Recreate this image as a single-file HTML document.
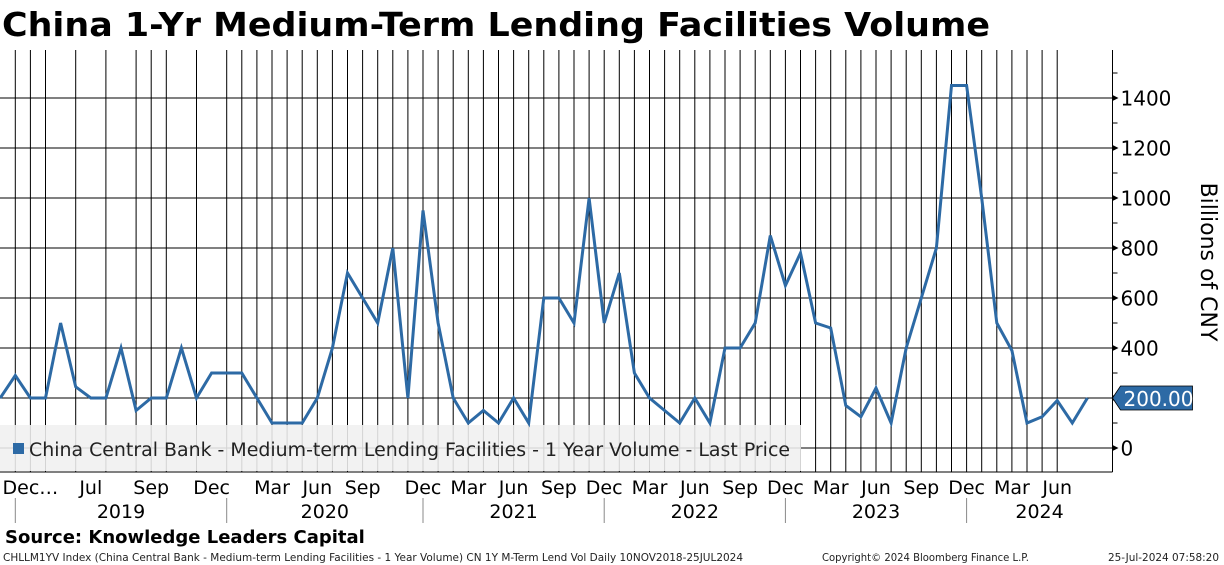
<!DOCTYPE html>
<html><head><meta charset="utf-8">
<style>
html,body{margin:0;padding:0;background:#fff;}
svg{display:block;}
text{font-family:"DejaVu Sans","Liberation Sans",sans-serif;}
</style></head>
<body>
<svg id="chart" width="1224" height="565" viewBox="0 0 1224 565" xmlns="http://www.w3.org/2000/svg">
  <text x="2" y="36" font-size="33" font-weight="bold" textLength="988" lengthAdjust="spacingAndGlyphs">China 1-Yr Medium-Term Lending Facilities Volume</text>
  <g id="grid"></g>
  <g id="legendg">
    <rect x="0" y="425" width="801" height="46" fill="rgba(240,240,240,0.88)"/>
    <rect x="13" y="443" width="11" height="11" fill="#2d6aa5"/>
    <text x="29" y="456" font-size="18.5" fill="#222" textLength="761" lengthAdjust="spacingAndGlyphs">China Central Bank - Medium-term Lending Facilities - 1 Year Volume - Last Price</text>
  </g>
  <g id="series"></g>
  <g id="axis"></g>
  <g id="xaxis"></g>
  <text transform="translate(1201,262) rotate(90)" text-anchor="middle" font-size="22">Billions of CNY</text>
  <text x="5" y="543" font-size="18" font-weight="bold">Source: Knowledge Leaders Capital</text>
  <text x="3" y="561" font-size="10.5" fill="#222" textLength="740" lengthAdjust="spacingAndGlyphs">CHLLM1YV Index (China Central Bank - Medium-term Lending Facilities - 1 Year Volume) CN 1Y M-Term Lend Vol  Daily 10NOV2018-25JUL2024</text>
  <text x="822" y="561" font-size="10.5" fill="#222" textLength="207" lengthAdjust="spacingAndGlyphs">Copyright© 2024 Bloomberg Finance L.P.</text>
  <text x="1108" y="561" font-size="10.5" fill="#222" textLength="111" lengthAdjust="spacingAndGlyphs">25-Jul-2024 07:58:20</text>
</svg>
<script>
const values = [200,290,200,200,500,245,200,200,400,150,200,200,400,200,300,300,300,200,100,100,100,200,400,700,600,500,800,200,950,500,200,100,150,100,200,100,600,600,500,1000,500,700,300,200,150,100,200,100,400,400,500,850,650,780,500,480,170,125,240,100,400,600,800,1450,1450,1000,500,390,100,125,190,100,200];
const lastPrice = "200.00";
const yTicks = [0,200,400,600,800,1000,1200,1400];
const yTickLabels = ["0","200","400","600","800","1000","1200","1400"];
const monthLabels = ["Dec…","Jul","Sep","Dec","Mar","Jun","Sep","Dec","Mar","Jun","Sep","Dec","Mar","Jun","Sep","Dec","Mar","Jun","Sep","Dec","Mar","Jun"];
const monthIdx = [2,6,10,14,18,21,24,28,31,34,37,40,43,46,49,52,55,58,61,64,67,70];
const yearLabels = ["2019","2020","2021","2022","2023","2024"];
const yearStartIdx = [1,15,28,40,52,64];
const noGridIdx = [0,4,6,8,12,14,71,72];

const NS="http://www.w3.org/2000/svg";
const X0=0.2, STEP=15.1, AXIS_X=1112.5, TOP=50, BOT=472;
const xs=i=>X0+STEP*i;
const ys=v=>448-v*0.25;
function mk(tag,attrs,parent){const e=document.createElementNS(NS,tag);for(const k in attrs)e.setAttribute(k,attrs[k]);parent.appendChild(e);return e;}
const grid=document.getElementById('grid'),series=document.getElementById('series'),axis=document.getElementById('axis'),xaxis=document.getElementById('xaxis');

// vertical gridlines
for(let i=0;i<values.length;i++){
  if(noGridIdx.includes(i))continue;
  const l=mk('line',{x1:xs(i),x2:xs(i),y1:TOP,y2:BOT,stroke:'#000','stroke-width':1},grid);
  
  
}
// horizontal gridlines
yTicks.forEach(v=>{
  const l=mk('line',{x1:0,x2:AXIS_X,y1:ys(v),y2:ys(v),stroke:'#000','stroke-width':1},grid);
  
  
});
const bl=mk('line',{x1:0,x2:AXIS_X,y1:BOT,y2:BOT,stroke:'#000','stroke-width':1},grid);



// series
const pts=values.map((v,i)=>xs(i).toFixed(1)+','+ys(v).toFixed(1)).join(' ');
const pl=mk('polyline',{points:pts,fill:'none',stroke:'#2d6aa5','stroke-width':3,'stroke-linejoin':'miter'},series);



// y axis
const al=mk('line',{x1:AXIS_X,x2:AXIS_X,y1:TOP,y2:BOT,stroke:'#000','stroke-width':1},axis);


for(let v=-100;v<=1500;v+=100){
  const y=ys(v); if(y<TOP||y>BOT)continue;
  const t=mk('line',{x1:AXIS_X,x2:AXIS_X+5,y1:y,y2:y,stroke:'#000','stroke-width':1},axis);
  
  
}
yTicks.forEach((v,k)=>{
  const y=ys(v);
  const tri=mk('polygon',{points:`${AXIS_X},${y-3} ${AXIS_X+6},${y} ${AXIS_X},${y+3}`,fill:'#000'},axis);
  
  
  if(v===200)return;
  const t=mk('text',{x:AXIS_X+8,y:y+7.5,'font-size':20},axis);
  t.textContent=yTickLabels[k];
  
  
});
// last price tag
const ly=ys(values[values.length-1]);
const tag=mk('polygon',{points:`${AXIS_X},${ly} ${AXIS_X+8},${ly-12} ${AXIS_X+80},${ly-12} ${AXIS_X+80},${ly+12} ${AXIS_X+8},${ly+12}`,fill:'#2d6aa5',stroke:'#000','stroke-width':0.8},axis);


const tt=mk('text',{x:AXIS_X+11,y:ly+8,'font-size':20,fill:'#fff'},axis);
tt.textContent=lastPrice;



// x axis labels
monthLabels.forEach((m,k)=>{
  const t=mk('text',{x:xs(monthIdx[k]),y:494,'font-size':19,'text-anchor':'middle'},xaxis);
  t.textContent=m;
  
  
});
yearStartIdx.forEach((s,k)=>{
  const x1=xs(s);
  const x2=k+1<yearStartIdx.length?xs(yearStartIdx[k+1]):AXIS_X;
  const sep=mk('line',{x1:x1,x2:x1,y1:498,y2:523,stroke:'#888','stroke-width':1},xaxis);
  
  
  const t=mk('text',{x:(x1+x2)/2,y:518,'font-size':19,'text-anchor':'middle'},xaxis);
  t.textContent=yearLabels[k];
  
  
});
</script>
</body></html>
